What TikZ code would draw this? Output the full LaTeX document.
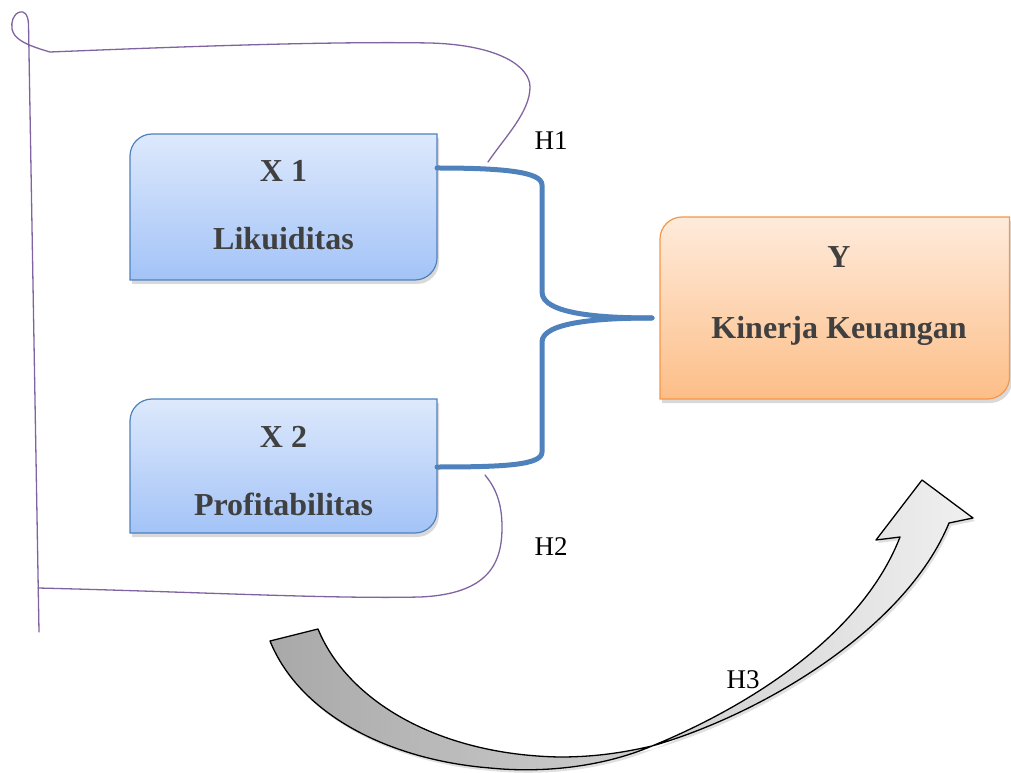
\documentclass[tikz,border=0pt]{standalone}
\usepackage{fontspec}
\setmainfont{Liberation Serif}
\usetikzlibrary{calc}
\definecolor{xtop}{RGB}{221,233,252}
\definecolor{xbot}{RGB}{163,195,247}
\definecolor{xborder}{RGB}{79,129,189}
\definecolor{ytop}{RGB}{254,235,219}
\definecolor{ybot}{RGB}{253,190,136}
\definecolor{yborder}{RGB}{247,150,70}
\definecolor{txt}{RGB}{64,64,64}
\definecolor{purp}{RGB}{128,100,162}
\definecolor{braceblue}{RGB}{79,129,189}
\newcommand{\tlbrbox}[5]{\path[#1] (#2,#3) -- (#2,#5-22) arc[start angle=180,end angle=90,radius=22] -- (#4,#5) -- (#4,#3+22) arc[start angle=0,end angle=-90,radius=22] -- cycle;}
\tikzset{
  xbox/.style={draw=xborder, line width=1.2pt, top color=xtop, bottom color=xbot},
  ybox/.style={draw=yborder, line width=1.2pt, top color=ytop, bottom color=ybot},
  shbox/.style={fill=black, opacity=0.15, xshift=2pt, yshift=-4pt},
  lbl/.style={font=\fontsize{32}{32}\selectfont\bfseries, text=txt, anchor=base, inner sep=0pt},
  hlbl/.style={font=\fontsize{27}{27}\selectfont, text=black, anchor=base, inner sep=0pt},
  bracepath/.style={draw=braceblue, line width=5pt, line cap=round, line join=round},
  purpline/.style={draw=purp, line width=1.3pt, line cap=round},
  bigarrow/.style={draw=black, line width=1.3pt, line join=round, left color=black!34, right color=black!6},
}
\begin{document}
\begin{tikzpicture}[x=1pt,y=1pt]
\useasboundingbox (0,0) rectangle (1011,772);
% purple lines
\draw[purpline] (39,140) -- (28.5,748) .. controls (28,758) and (24,761) .. (20,760)
  .. controls (13,758) and (11,750) .. (12,743) .. controls (14,734) and (22,728) .. (50,720)
  .. controls (150,724) and (320,731) .. (430,729)
  .. controls (500,727) and (530,705) .. (530,685)
  .. controls (530,660) and (505,635) .. (488,610);
\draw[purpline] (38,184) .. controls (200,180) and (330,173) .. (420,175)
  .. controls (490,178) and (502,210) .. (502,245)
  .. controls (502,270) and (495,285) .. (485,297);
% box shadows
\begin{scope}[shbox]
\tlbrbox{fill=black}{130}{492}{437}{638}
\tlbrbox{fill=black}{130}{239}{437}{373}
\tlbrbox{fill=black}{660}{373}{1010}{555}
\end{scope}
% boxes
\tlbrbox{xbox}{130}{492}{437}{638}
\tlbrbox{xbox}{130}{239}{437}{373}
\tlbrbox{ybox}{660}{373}{1009.5}{555}
% texts
\node[lbl] (x1a) at (283.5,590) {X 1};
\node[lbl] (x1b) at (283.5,522) {Likuiditas};
\node[lbl] (x2a) at (283.5,325) {X 2};
\node[lbl] (x2b) at (283.5,257) {Profitabilitas};
\node[lbl] (ya) at (839,504) {Y};
\node[lbl] (yb) at (839,433) {Kinerja Keuangan};
% brace connectors
\coordinate (b1) at (437,604);
\coordinate (b2) at (437,305);
\coordinate (tip) at (652,454);
\draw[bracepath] (b1) .. controls (505,604) and (542,600) .. (542,587) -- (542,480)
  .. controls (542,458) and (600,454) .. (tip);
\draw[bracepath] (tip) .. controls (600,454) and (542,450) .. (542,430) -- (542,320)
  .. controls (542,307) and (505,305) .. (b2);
% hypothesis labels
\node[hlbl] (h1) at (551,622) {H1};
\node[hlbl] (h2) at (551,217) {H2};
\node[hlbl] (h3) at (743,84) {H3};
% curved block arrow
\fill[black, opacity=0.12, xshift=2pt, yshift=-3pt] (318,143) .. controls (348,70) and (440,17) .. (560,15) .. controls (600,15) and (630,21) .. (652,26)
  .. controls (740,62) and (860,132) .. (900,235) -- (876,232) -- (922,292) -- (973,254) -- (949,249)
  .. controls (905,142) and (760,57) .. (652,26)
  .. controls (600,4) and (540,-1) .. (490,4) .. controls (390,12) and (300,57) .. (270,131) -- cycle;
\path[bigarrow] (318,143) .. controls (348,70) and (440,17) .. (560,15) .. controls (600,15) and (630,21) .. (652,26)
  .. controls (740,62) and (860,132) .. (900,235) -- (876,232) -- (922,292) -- (973,254) -- (949,249)
  .. controls (905,142) and (760,57) .. (652,26)
  .. controls (600,4) and (540,-1) .. (490,4) .. controls (390,12) and (300,57) .. (270,131) -- cycle;
\end{tikzpicture}
\end{document}
